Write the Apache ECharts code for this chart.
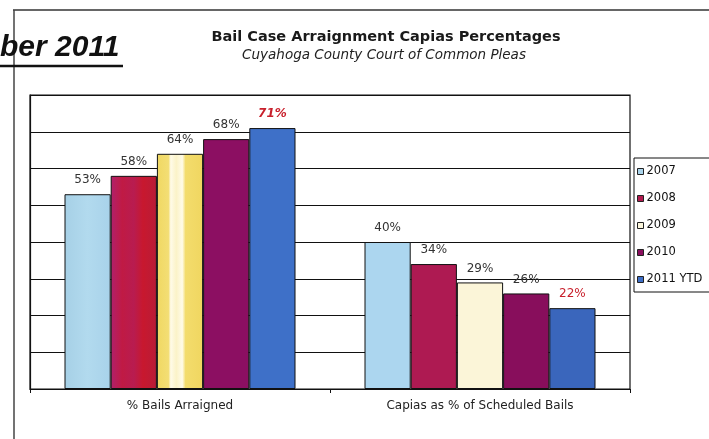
<!DOCTYPE html>
<html>
<head>
<meta charset="utf-8">
<script src="https://cdn.jsdelivr.net/npm/echarts@6/dist/echarts.min.js"></script>
<style>
html,body{margin:0;padding:0;background:#fff;}
#chart{width:709px;height:439px;}
</style>
</head>
<body>
<div id="chart"></div>
<script>
const categories = ['% Bails Arraigned', 'Capias as % of Scheduled Bails'];
const seriesNames = ['2007', '2008', '2009', '2010', '2011 YTD'];
const v2007 = [53, 40];
const v2008 = [58, 34];
const v2009 = [64, 29];
const v2010 = [68, 26];
const v2011 = [71, 22];
const yMin = 0, yMax = 80, yStep = 10;

const FONT = 'DejaVu Sans';
const chart = echarts.init(document.getElementById('chart'), null, {renderer: 'canvas'});

function grad(stops) {
  return new echarts.graphic.LinearGradient(0, 0, 1, 0, stops.map(s => ({offset: s[0], color: s[1]})));
}

const styles = [
  {color: '#aad4ec', items: [grad([[0,'#a6d0e6'],[0.5,'#b2daee'],[1,'#a8d2ea']]), '#acd6ef']},
  {color: '#b01a4e', items: [grad([[0,'#b0206c'],[0.25,'#c01a44'],[0.5,'#b81c50'],[0.7,'#c8182e'],[1,'#b81c38']]), '#ae1a52']},
  {color: '#fbf6dc', items: [grad([[0,'#f0d862'],[0.25,'#f3de74'],[0.3,'#fffbe8'],[0.42,'#fbf3c8'],[0.55,'#fffbe8'],[0.62,'#f3dc6c'],[1,'#f0d660']]), '#fbf5d8']},
  {color: '#8a0e5e', items: ['#8c0f62', '#880e5c']},
  {color: '#3d6ec6', items: ['#3e70c8', '#3a66bc']}
];
const values = [v2007, v2008, v2009, v2010, v2011];

const series = seriesNames.map((name, si) => ({
  name: name,
  type: 'bar',
  barGap: '0%',
  barCategoryGap: '23%',
  itemStyle: {color: styles[si].color, borderColor: '#111', borderWidth: 1},
  label: {
    show: true,
    position: 'top',
    distance: 8,
    fontFamily: FONT,
    fontSize: 12,
    color: si === 4 ? '#c8202c' : '#333',
    formatter: p => p.value + '%'
  },
  data: values[si].map((v, i) => {
    const d = {value: v, itemStyle: {color: styles[si].items[i]}};
    if (si === 4 && i === 0) d.label = {fontStyle: 'italic', fontWeight: 'bold'};
    return d;
  })
}));

const option = {
  backgroundColor: '#ffffff',
  animation: false,
  grid: {left: 30, right: 79, top: 95, bottom: 50, show: true, borderColor: '#111', borderWidth: 1.2, backgroundColor: 'transparent'},
  legend: {
    orient: 'vertical',
    left: 634,
    top: 158,
    padding: [7, 30, 6, 3],
    itemGap: 14,
    itemWidth: 6,
    itemHeight: 6,
    icon: 'rect',
    borderColor: '#111',
    borderWidth: 1,
    backgroundColor: '#fff',
    textStyle: {fontFamily: FONT, fontSize: 11.5, color: '#111', lineHeight: 13, padding: [0,0,0,-2]},
    data: seriesNames.map((n, i) => ({name: n, itemStyle: {color: styles[i].color, borderColor: '#222', borderWidth: 1}}))
  },
  xAxis: {
    type: 'category',
    data: categories,
    axisLine: {lineStyle: {color: '#111', width: 1.2}},
    axisTick: {show: true, length: 4, lineStyle: {color: '#111'}},
    axisLabel: {fontFamily: FONT, fontSize: 12, color: '#222', margin: 11}
  },
  yAxis: {
    type: 'value',
    min: yMin, max: yMax, interval: yStep,
    axisLabel: {show: false},
    axisLine: {show: true, lineStyle: {color: '#111', width: 1.2}},
    axisTick: {show: false},
    splitLine: {lineStyle: {color: '#111', width: 1.2}}
  },
  graphic: [
    {type: 'line', shape: {x1: 13, y1: 10, x2: 709, y2: 10}, style: {stroke: '#333', lineWidth: 1.5}},
    {type: 'line', shape: {x1: 14, y1: 10, x2: 14, y2: 439}, style: {stroke: '#444', lineWidth: 1.5}},
    {type: 'text', left: 0, top: 33, style: {text: 'ber 2011', font: 'italic bold 30px "Liberation Sans"', fill: '#111'}},
    {type: 'line', shape: {x1: 0, y1: 66, x2: 123, y2: 66}, style: {stroke: '#111', lineWidth: 2.5}},
    {type: 'text', x: 386, y: 37, style: {text: 'Bail Case Arraignment Capias Percentages', font: 'bold 14.5px "DejaVu Sans"', fill: '#1a1a1a', align: 'center', verticalAlign: 'middle'}},
    {type: 'text', x: 384, y: 55, style: {text: 'Cuyahoga County Court of Common Pleas', font: 'italic 13.5px "DejaVu Sans"', fill: '#222', align: 'center', verticalAlign: 'middle'}}
  ],
  series: series
};
chart.setOption(option);
</script>
</body>
</html>
